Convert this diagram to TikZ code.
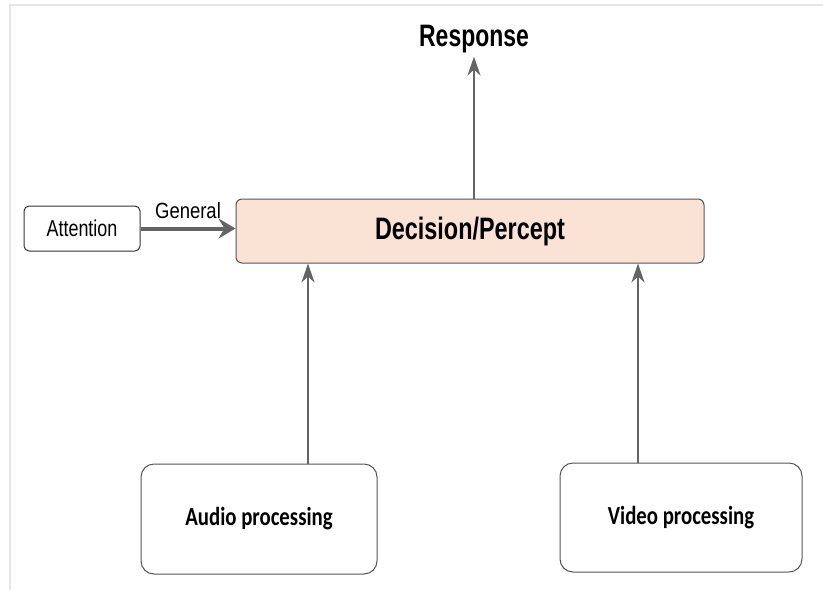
\documentclass[tikz,border=0pt]{standalone}
\usepackage{fontspec}
\usepackage{graphicx}
\setmainfont{Liberation Sans}
\newfontfamily\carlito{Carlito}
\usetikzlibrary{arrows.meta}
\definecolor{peach}{RGB}{250,227,213}
\definecolor{arrgray}{RGB}{100,100,100}
\definecolor{boxgray}{RGB}{85,85,85}
\definecolor{framegray}{RGB}{230,230,230}
\newcommand{\squeeze}[2]{\scalebox{#1}[1]{#2}}

\begin{document}
\begin{tikzpicture}[x=1pt,y=-1pt,
	box/.style={draw=boxgray,line width=1pt,inner sep=0pt},
	arr/.style={draw=arrgray,line width=2pt,-{Stealth[length=19pt,width=13pt,inset=6pt]}},
	fatarr/.style={draw=arrgray,line width=4pt,-{Stealth[length=17pt,width=20pt,inset=6pt]}}]
		\useasboundingbox (0,0) rectangle (823,590);
		\draw[framegray,line width=1.2pt] (10,590) -- (10,5) -- (823,5);
		% boxes
		\node[box,fill=peach,rounded corners=6pt,minimum width=468pt,minimum height=64pt] (dec) at (470,231) {\fontsize{31}{34}\selectfont\bfseries\squeeze{0.755}{Decision/Percept}};
		\node[box,draw=black!80,rounded corners=5pt,minimum width=116pt,minimum height=45pt] (att) at (82,228.5) {\fontsize{23}{26}\selectfont\squeeze{0.78}{Attention}};
		\node[box,rounded corners=13pt,minimum width=236pt,minimum height=110pt] (aud) at (259,519) {\fontsize{26}{30}\selectfont\carlito\bfseries\squeeze{0.8}{Audio processing}};
		\node[box,rounded corners=13pt,minimum width=242pt,minimum height=109pt] (vid) at (681,517.5) {\fontsize{26}{30}\selectfont\carlito\bfseries\squeeze{0.8}{Video processing}};
		\node[inner sep=3pt] (resp) at (474,39.5) {\fontsize{31}{34}\selectfont\bfseries\squeeze{0.74}{Response}};
		% connectors
		\coordinate (audIn) at (308,0);
		\coordinate (vidIn) at (638,0);
		\draw[arr] (dec.north -| resp) -- (resp.south);
		\draw[arr] (aud.north -| audIn) -- (dec.south -| audIn);
		\draw[arr] (vid.north -| vidIn) -- (dec.south -| vidIn);
		\draw[fatarr] (att.east) -- (att.east -| dec.west) node[midway,above=4pt] (gen) {\fontsize{22}{25}\selectfont\squeeze{0.84}{General}};
\end{tikzpicture}
\end{document}
